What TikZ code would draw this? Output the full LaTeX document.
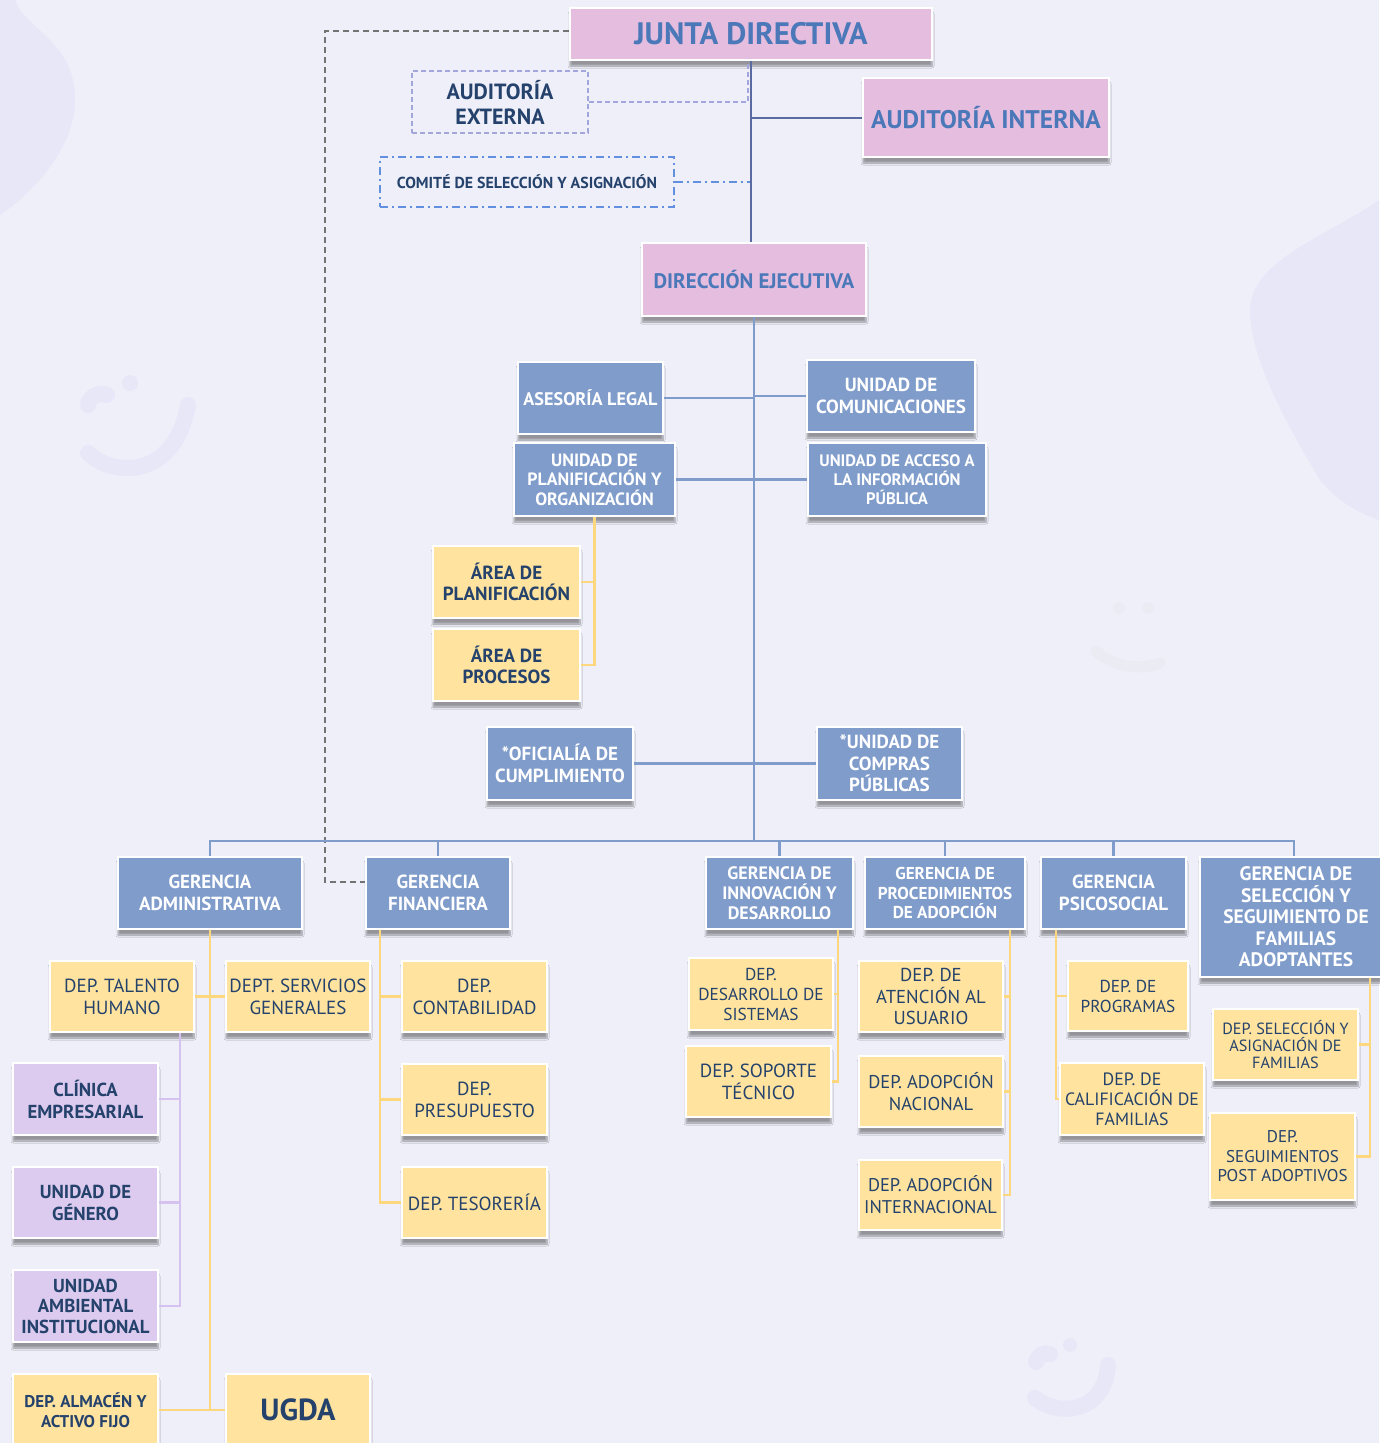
\documentclass[tikz,border=0pt]{standalone}
\usepackage{fontspec}
\setmainfont{PT Sans}
\usetikzlibrary{shadows.blur}

\definecolor{bgcol}{HTML}{EFEFFA}
\definecolor{blobcol}{HTML}{E7E7F7}
\definecolor{facecol}{HTML}{EBEBF4}
\definecolor{juntapink}{HTML}{E5BDDF}
\definecolor{titleblue}{HTML}{4A78B8}
\definecolor{unitblue}{HTML}{809CCB}
\definecolor{depyellow}{HTML}{FFE39F}
\definecolor{lilac}{HTML}{DCCBEE}
\definecolor{navytext}{HTML}{24426B}
\definecolor{ylinecol}{HTML}{FDD77E}
\definecolor{llinecol}{HTML}{D6C2F0}
\definecolor{toplinecol}{HTML}{5B6BA2}
\definecolor{blinecol}{HTML}{809CCB}
\definecolor{lavdash}{HTML}{A3A6DA}
\definecolor{dashblue}{HTML}{6190E0}

\tikzset{
  box/.style={rectangle, draw=white, line width=2.5pt, align=center, inner sep=1pt,
    blur shadow={shadow xshift=0pt, shadow yshift=-6pt, shadow blur steps=8, shadow opacity=38}},
  pinkbox/.style={box, fill=juntapink, text=titleblue},
  bluebox/.style={box, fill=unitblue, text=white, font=\bfseries\fontsize{19}{22}\selectfont},
  yellowbox/.style={box, fill=depyellow, text=navytext, font=\fontsize{19}{22}\selectfont},
  lilacbox/.style={box, fill=lilac, text=navytext, font=\bfseries\fontsize{18.8}{20.5}\selectfont},
  topline/.style={draw=toplinecol, line width=2pt},
  bline/.style={draw=blinecol, line width=2.5pt},
  yline/.style={draw=ylinecol, line width=2.2pt},
  lline/.style={draw=llinecol, line width=2.2pt},
  graydash/.style={draw=black!55, line width=1.6pt, dash pattern=on 6pt off 4pt},
}

\begin{document}
\begin{tikzpicture}[x=1pt,y=-1pt]
\useasboundingbox (0,0) rectangle (1379,1443);
\fill[bgcol] (0,0) rectangle (1379,1443);

% background shapes
\fill[blobcol] (0,0) -- (15,0) .. controls (25,30) and (75,40) .. (75,100)
  .. controls (75,150) and (30,195) .. (0,215) -- cycle;
\fill[blobcol] (1379,200) .. controls (1330,235) and (1250,260) .. (1250,310)
  .. controls (1250,360) and (1290,430) .. (1320,480)
  .. controls (1340,505) and (1365,515) .. (1379,520) -- cycle;
\begin{scope}[draw=blobcol, line width=16pt, line cap=round]
\draw (88,453) .. controls (115,478) and (175,478) .. (188,405);
\draw (88,405) .. controls (90,395) and (100,392) .. (107,395);
\fill[blobcol] (130,383) circle (8);
\draw (1035,1398) .. controls (1060,1418) and (1105,1412) .. (1108,1365);
\draw (1036,1362) .. controls (1038,1355) and (1044,1352) .. (1050,1354);
\fill[blobcol] (1070,1345) circle (7);
\end{scope}
\begin{scope}[draw=facecol, line width=11pt, line cap=round]
\draw (1096,651) .. controls (1115,668) and (1140,670) .. (1160,663);
\fill[facecol] (1119,608) circle (6) (1148,608) circle (6);
\end{scope}

% governing bodies
\node[pinkbox, minimum width=362, minimum height=52, font=\bfseries\fontsize{31}{33}\selectfont] (junta) at (751,34) {JUNTA DIRECTIVA};
\node[pinkbox, minimum width=246, minimum height=79, font=\bfseries\fontsize{25.5}{28}\selectfont] (audint) at (986,117.5) {AUDITORÍA INTERNA};
\node[rectangle, draw=lavdash, line width=1.6pt, dash pattern=on 5pt off 3pt, minimum width=176, minimum height=62,
  align=center, text=navytext, font=\bfseries\fontsize{22}{25}\selectfont] (audext) at (500,102) {AUDITORÍA\\EXTERNA};
\node[rectangle, draw=dashblue, line width=1.6pt, dash pattern=on 8pt off 4pt on 2pt off 4pt, minimum width=294, minimum height=50,
  text=navytext, font=\bfseries\fontsize{15.9}{18}\selectfont] (comite) at (527,182) {COMITÉ DE SELECCIÓN Y ASIGNACIÓN};
\node[pinkbox, minimum width=224, minimum height=73, font=\bfseries\fontsize{21}{24}\selectfont] (direccion) at (754,279.5) {DIRECCIÓN EJECUTIVA};

% staff units
\node[bluebox, minimum width=145, minimum height=72, font=\bfseries\fontsize{18.2}{22}\selectfont] (asesoria) at (590.5,398) {ASESORÍA LEGAL};
\node[bluebox, minimum width=168, minimum height=72] (comunic) at (891,396) {UNIDAD DE\\COMUNICACIONES};
\node[bluebox, minimum width=161, minimum height=73, font=\bfseries\fontsize{17.8}{19.5}\selectfont] (planorg) at (594.5,479.5) {UNIDAD DE\\PLANIFICACIÓN Y\\ORGANIZACIÓN};
\node[bluebox, minimum width=178, minimum height=73, font=\bfseries\fontsize{16.6}{19}\selectfont] (acceso) at (897,479.5) {UNIDAD DE ACCESO A\\LA INFORMACIÓN\\PÚBLICA};
\node[yellowbox, minimum width=147, minimum height=72, font=\bfseries\fontsize{19}{21}\selectfont] (areaplan) at (506.5,582) {ÁREA DE\\PLANIFICACIÓN};
\node[yellowbox, minimum width=147, minimum height=72, font=\bfseries\fontsize{19}{21}\selectfont] (areaproc) at (506.5,665) {ÁREA DE\\PROCESOS};
\node[bluebox, minimum width=146, minimum height=73] (oficialia) at (560,763.5) {*OFICIALÍA DE\\CUMPLIMIENTO};
\node[bluebox, minimum width=145, minimum height=73, font=\bfseries\fontsize{19}{21.5}\selectfont] (compras) at (889.5,763.5) {*UNIDAD DE\\COMPRAS\\PÚBLICAS};

% gerencias
\node[bluebox, minimum width=184, minimum height=72] (gadm) at (210,893) {GERENCIA\\ADMINISTRATIVA};
\node[bluebox, minimum width=144, minimum height=72] (gfin) at (438,893) {GERENCIA\\FINANCIERA};
\node[bluebox, minimum width=147, minimum height=72, font=\bfseries\fontsize{18}{20}\selectfont] (ginn) at (779.5,893) {GERENCIA DE\\INNOVACIÓN Y\\DESARROLLO};
\node[bluebox, minimum width=160, minimum height=72, font=\bfseries\fontsize{17.2}{19.5}\selectfont] (gproc) at (945,893) {GERENCIA DE\\PROCEDIMIENTOS\\DE ADOPCIÓN};
\node[bluebox, minimum width=145, minimum height=72] (gpsi) at (1113.5,893) {GERENCIA\\PSICOSOCIAL};
\node[bluebox, minimum width=192, minimum height=120, font=\bfseries\fontsize{19.5}{21.5}\selectfont] (gsel) at (1296,917) {GERENCIA DE\\SELECCIÓN Y\\SEGUIMIENTO DE\\FAMILIAS\\ADOPTANTES};

% administrativa
\node[yellowbox, minimum width=144, minimum height=71] (talento) at (122,996.5) {DEP. TALENTO\\HUMANO};
\node[yellowbox, minimum width=144, minimum height=71] (servicios) at (298,996.5) {DEPT. SERVICIOS\\GENERALES};
\node[lilacbox, minimum width=145, minimum height=72, font=\bfseries\fontsize{18.8}{22}\selectfont] (clinica) at (85.5,1099) {CLÍNICA\\EMPRESARIAL};
\node[lilacbox, minimum width=145, minimum height=71, font=\bfseries\fontsize{18.8}{22}\selectfont] (genero) at (85.5,1202.5) {UNIDAD DE\\GÉNERO};
\node[lilacbox, minimum width=145, minimum height=72] (ambiental) at (85.5,1306) {UNIDAD\\AMBIENTAL\\INSTITUCIONAL};
\node[yellowbox, minimum width=145, minimum height=72, font=\bfseries\fontsize{17}{20}\selectfont] (almacen) at (85.5,1410) {DEP. ALMACÉN Y\\ACTIVO FIJO};
\node[yellowbox, minimum width=144, minimum height=72, font=\bfseries\fontsize{30.5}{32}\selectfont] (ugda) at (298,1410) {UGDA};

% financiera
\node[yellowbox, minimum width=145, minimum height=71] (contab) at (474.5,996.5) {DEP.\\CONTABILIDAD};
\node[yellowbox, minimum width=145, minimum height=71] (presup) at (474.5,1099.5) {DEP.\\PRESUPUESTO};
\node[yellowbox, minimum width=145, minimum height=71] (tesor) at (474.5,1202.5) {DEP. TESORERÍA};

% innovacion
\node[yellowbox, minimum width=144, minimum height=72, font=\fontsize{17.3}{20}\selectfont] (desarr) at (761,994) {DEP.\\DESARROLLO DE\\SISTEMAS};
\node[yellowbox, minimum width=145, minimum height=71] (soporte) at (758.5,1081.5) {DEP. SOPORTE\\TÉCNICO};

% procedimientos
\node[yellowbox, minimum width=144, minimum height=71, font=\fontsize{18.7}{21.5}\selectfont] (atencion) at (931,996.5) {DEP. DE\\ATENCIÓN AL\\USUARIO};
\node[yellowbox, minimum width=144, minimum height=71, font=\fontsize{18.5}{22}\selectfont] (adnac) at (931,1091.5) {DEP. ADOPCIÓN\\NACIONAL};
\node[yellowbox, minimum width=143, minimum height=70, font=\fontsize{18.4}{22}\selectfont] (adint) at (930.5,1195) {DEP. ADOPCIÓN\\INTERNACIONAL};

% psicosocial
\node[yellowbox, minimum width=120, minimum height=70, font=\fontsize{17.3}{20}\selectfont] (programas) at (1128,996) {DEP. DE\\PROGRAMAS};
\node[yellowbox, minimum width=144, minimum height=72, font=\fontsize{17.8}{20}\selectfont] (calif) at (1132,1099) {DEP. DE\\CALIFICACIÓN DE\\FAMILIAS};

% seleccion
\node[yellowbox, minimum width=145, minimum height=71, font=\fontsize{16.2}{17}\selectfont] (selasig) at (1285.5,1044.5) {DEP. SELECCIÓN Y\\ASIGNACIÓN DE\\FAMILIAS};
\node[yellowbox, minimum width=145, minimum height=87, font=\fontsize{17}{19.5}\selectfont] (seguim) at (1282.5,1156.5) {DEP.\\SEGUIMIENTOS\\POST ADOPTIVOS};

% connectors, top
\coordinate (gturn) at (325,882);
\coordinate (bus) at (754,841);
\draw[topline] (junta.south) -- (junta.south |- direccion.north);
\draw[topline] (junta.south |- audint.west) -- (audint.west);
\draw[draw=lavdash, line width=1.6pt, dash pattern=on 5pt off 3pt] (audext.east) -- ([xshift=-3pt]junta.south |- audext.east) -- ([xshift=-3pt]junta.south);
\draw[draw=dashblue, line width=1.6pt, dash pattern=on 8pt off 4pt on 2pt off 4pt] (comite.east) -- ([xshift=-1pt]junta.south |- comite.east);
\draw[graydash] ([yshift=3pt]junta.west) -| (gturn) -- ([yshift=11pt]gfin.west);

% connectors, direccion
\draw[bline] (direccion.south) -- (direccion.south |- bus);
\draw[bline] (asesoria.east) -- (asesoria.east -| direccion.south);
\draw[bline] (comunic.west) -- (comunic.west -| direccion.south);
\draw[bline] (planorg.east) -- (planorg.east -| direccion.south);
\draw[bline] (acceso.west) -- (acceso.west -| direccion.south);
\draw[bline] (oficialia.east) -- (oficialia.east -| direccion.south);
\draw[bline] (compras.west) -- (compras.west -| direccion.south);
\draw[yline] (planorg.south) |- (areaproc.east);
\draw[yline] (areaplan.east) -- (areaplan.east -| planorg.south);

% bus to gerencias
\coordinate (selx) at ([xshift=-2pt]gsel.north);
\draw[bline] (gadm.north) |- (selx |- bus) -- (selx);
\draw[bline] (gfin.north) -- (gfin.north |- bus);
\draw[bline] (ginn.north) -- (ginn.north |- bus);
\draw[bline] (gproc.north) -- (gproc.north |- bus);
\draw[bline] (gpsi.north) -- (gpsi.north |- bus);

% spines under each gerencia
\coordinate (lspine) at ([xshift=58pt]talento.south);
\coordinate (finspine) at ([xshift=-58pt]gfin.south);
\coordinate (innspine) at ([xshift=58.5pt]ginn.south);
\coordinate (procspine) at ([xshift=65pt]gproc.south);
\coordinate (psispine) at ([xshift=-57.5pt]gpsi.south);
\coordinate (selspine) at ([xshift=74pt]gsel.south);

% connectors, departamentos
\draw[yline] (gadm.south) -- (gadm.south |- ugda.west);
\draw[yline] (almacen.east) -- (ugda.west);
\draw[yline] (talento.east) -- (servicios.west);
\draw[lline] (lspine) |- (ambiental.east);
\draw[lline] (clinica.east) -- (clinica.east -| lspine);
\draw[lline] (genero.east) -- (genero.east -| lspine);
\draw[yline] (finspine) |- (tesor.west);
\draw[yline] (contab.west) -- (contab.west -| finspine);
\draw[yline] (presup.west) -- (presup.west -| finspine);
\draw[yline] (innspine) |- (soporte.east);
\draw[yline] (desarr.east) -- (desarr.east -| innspine);
\draw[yline] (procspine) |- (adint.east);
\draw[yline] (atencion.east) -- (atencion.east -| procspine);
\draw[yline] (adnac.east) -- (adnac.east -| procspine);
\draw[yline] (psispine) |- (calif.west);
\draw[yline] (programas.west) -- (programas.west -| psispine);
\draw[yline] (selspine) |- (seguim.east);
\draw[yline] (selasig.east) -- (selasig.east -| selspine);
\end{tikzpicture}
\end{document}
